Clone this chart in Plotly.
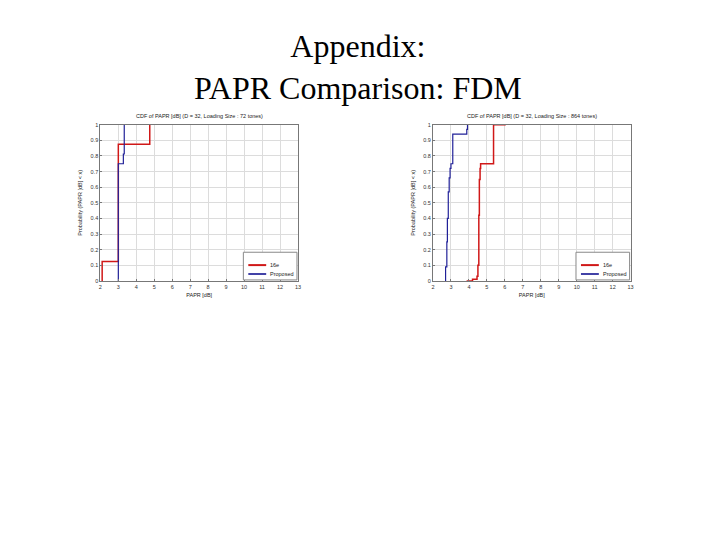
import plotly.graph_objects as go

# ---- data ----
x_ticks = list(range(2, 14))
y_ticks = [round(i * 0.1, 1) for i in range(11)]
y_tick_labels = ["0", "0.1", "0.2", "0.3", "0.4", "0.5", "0.6", "0.7", "0.8", "0.9", "1"]

left_title = "CDF of PAPR [dB] (D = 32, Loading Size : 72 tones)"
right_title = "CDF of PAPR [dB] (D = 32, Loading Size : 864 tones)"
series_names = ["16e", "Proposed"]

# left panel (72 tones): CDF steps (PAPR value, cumulative prob)
l16e_x = [2.1, 2.1, 3.0, 4.75]
l16e_y = [0.0, 0.125, 0.875, 1.0]
lprop_x = [3.0, 3.0, 3.28, 3.33]
lprop_y = [0.0, 0.75, 0.8125, 1.0]

# right panel (864 tones)
r16e_x = [3.87, 4.2, 4.45, 4.5, 4.55, 4.58, 4.62, 4.65, 5.37, 6.05]
r16e_y = [0.0, 0.01, 0.03, 0.1, 0.42, 0.65, 0.72, 0.75, 1.0, 1.0]
rprop_x = [2.7, 2.7, 2.77, 2.8, 2.85, 2.9, 2.95, 3.0, 3.1, 3.88, 3.92]
rprop_y = [0.0, 0.09, 0.25, 0.4, 0.57, 0.66, 0.72, 0.75, 0.94, 0.97, 1.0]

RED = "#d01818"
BLUE = "#202098"
FONT = "Liberation Sans, Arial, sans-serif"
LINE_W = {"16e": 1.5, "Proposed": 1.2}
COLORS = {"16e": RED, "Proposed": BLUE}

fig = go.Figure()

panels = [
    ("x", "y", [(l16e_x, l16e_y, "16e"), (lprop_x, lprop_y, "Proposed")]),
    ("x2", "y2", [(r16e_x, r16e_y, "16e"), (rprop_x, rprop_y, "Proposed")]),
]
for xa, ya, series in panels:
    for xs, ys, nm in series:
        fig.add_trace(go.Scatter(x=xs, y=ys, mode="lines", line_shape="hv",
                                 line=dict(color=COLORS[nm], width=LINE_W[nm]), name=nm,
                                 xaxis=xa, yaxis=ya, showlegend=False))

# page has an 8px body margin; figure is drawn inside it
OFF = 8
W, H = 712, 532
def fx(p):
    return (p - OFF) / W
def fy(p):
    return 1 - (p - OFF) / H

ydom = [fy(281), fy(123)]
xdomL = [fx(99), fx(298)]
xdomR = [fx(434), fx(633)]

tickfont = dict(family=FONT, size=5.5, color="#333333")
common_x = dict(range=[2, 13], tickvals=x_ticks, showgrid=True, gridcolor="#dcdcdc",
                gridwidth=1, zeroline=False, showline=True, linecolor="#777777",
                linewidth=1, mirror=True, ticks="inside", ticklen=2, tickcolor="#777777",
                tickfont=tickfont, fixedrange=True,
                title=dict(text="PAPR [dB]", font=dict(family=FONT, size=5.5, color="#222222"),
                           standoff=4))
common_y = dict(range=[0, 1], tickvals=y_ticks, ticktext=y_tick_labels, showgrid=True,
                gridcolor="#dcdcdc", gridwidth=1, zeroline=False, showline=True,
                linecolor="#777777", linewidth=1, mirror=True, ticks="inside", ticklen=2,
                tickcolor="#777777", tickfont=tickfont, fixedrange=True,
                title=dict(text="Probability (PAPR [dB] < x)",
                           font=dict(family=FONT, size=5.5, color="#222222"), standoff=7))

annotations = [
    dict(text="Appendix:<br>PAPR Comparison: FDM", x=fx(358), y=fy(23), xref="paper",
         yref="paper", xanchor="center", yanchor="top", showarrow=False,
         font=dict(family="Liberation Serif, Times New Roman, serif", size=32, color="black")),
    dict(text=left_title, x=(xdomL[0] + xdomL[1]) / 2, y=fy(119), xref="paper",
         yref="paper", xanchor="center", yanchor="bottom", showarrow=False,
         font=dict(family=FONT, size=5.5, color="#222222")),
    dict(text=right_title, x=(xdomR[0] + xdomR[1]) / 2, y=fy(119), xref="paper",
         yref="paper", xanchor="center", yanchor="bottom", showarrow=False,
         font=dict(family=FONT, size=5.5, color="#222222")),
]

# per-panel legend boxes (drawn in paper coordinates)
shapes = []
for dx in (0, 335):
    shapes.append(dict(type="rect", xref="paper", yref="paper",
                       x0=fx(243 + dx), x1=fx(297 + dx), y0=fy(280), y1=fy(252),
                       line=dict(color="#888888", width=1), fillcolor="white", layer="above"))
    for nm, yy in (("16e", 265), ("Proposed", 274)):
        shapes.append(dict(type="line", xref="paper", yref="paper",
                           x0=fx(248 + dx), x1=fx(266 + dx), y0=fy(yy), y1=fy(yy),
                           line=dict(color=COLORS[nm], width=LINE_W[nm] + 0.5), layer="above"))
        annotations.append(dict(text=nm, x=fx(268 + dx), y=fy(yy), xref="paper", yref="paper",
                                xanchor="left", yanchor="middle", showarrow=False,
                                font=dict(family=FONT, size=5.5, color="#222222")))

fig.update_layout(
    width=W, height=H,
    margin=dict(l=0, r=0, t=0, b=0),
    paper_bgcolor="white", plot_bgcolor="white",
    showlegend=False,
    xaxis=dict(domain=xdomL, anchor="y", **common_x),
    yaxis=dict(domain=ydom, anchor="x", **common_y),
    xaxis2=dict(domain=xdomR, anchor="y2", **common_x),
    yaxis2=dict(domain=ydom, anchor="x2", **common_y),
    annotations=annotations,
    shapes=shapes,
)

fig.write_html("out.html")
